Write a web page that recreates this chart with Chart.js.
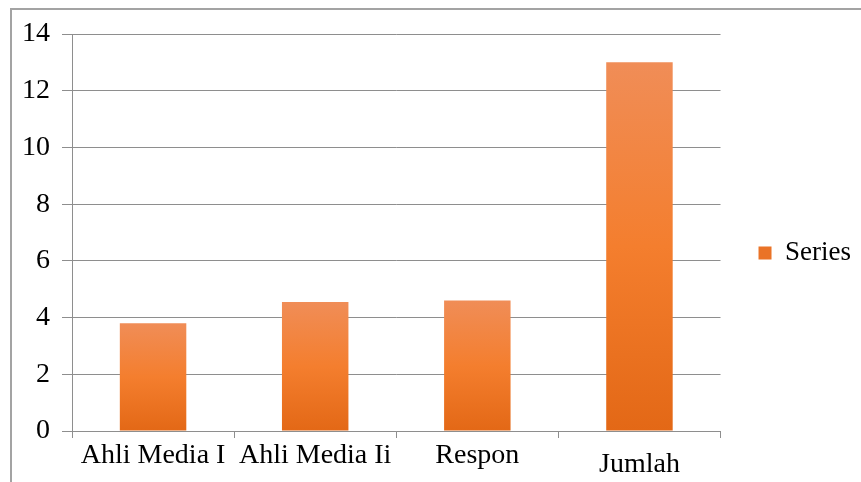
<!DOCTYPE html>
<html>
<head>
<meta charset="utf-8">
<script src="https://cdn.jsdelivr.net/npm/chart.js@4.4.0/dist/chart.umd.min.js"></script>
<style>
  body { margin: 0; background: #fff; overflow: hidden; }
  #wrap { position: relative; width: 861px; height: 482px; }
  #frame {
    position: absolute; left: 10px; top: 8px; width: 900px; height: 500px;
    border-top: 2px solid #a3a3a3; border-left: 2px solid #a3a3a3;
    pointer-events: none;
  }
  #grafico { position: absolute; left: 0; top: 0; }
</style>
</head>
<body>
<div id="wrap">
  <div id="frame"></div>
  <canvas id="grafico" width="861" height="482"></canvas>
</div>
<script>
// datos
var categorias = ["Ahli Media I", "Ahli Media Ii", "Respon", "Jumlah"];
var valores = [3.8, 4.55, 4.6, 13];
var nombreSerie = "Series";
var marcasY = [0, 2, 4, 6, 8, 10, 12, 14];

var fuente = "'Liberation Serif', 'Times New Roman', serif";
var gris = "#8e8e8e";

function rellenoBarra(ctx) {
    var chart = ctx.chart;
    if (!chart.chartArea || ctx.raw === undefined) {
        return "#f27c2c";
    }
    var y = chart.scales.y;
    var arriba = y.getPixelForValue(ctx.raw);
    var base = y.getPixelForValue(0);
    var g = chart.ctx.createLinearGradient(0, arriba, 0, base);
    g.addColorStop(0, "#f08d57");
    g.addColorStop(0.5, "#f47e2e");
    g.addColorStop(1, "#e36816");
    return g;
}

function cargaGrafico() {
    "use strict";
    var lienzo = document.getElementById("grafico").getContext("2d");
    new Chart(lienzo, {
        type: "bar",
        data: {
            labels: categorias,
            datasets: [{
                label: nombreSerie,
                data: valores,
                backgroundColor: rellenoBarra,
                borderWidth: 0,
                categoryPercentage: 1,
                barPercentage: 0.41
            }]
        },
        options: {
            responsive: false,
            animation: false,
            layout: { padding: { left: 10, top: 34, right: 0, bottom: 10 } },
            plugins: {
                tooltip: { enabled: false },
                legend: {
                    position: "right",
                    labels: {
                        boxWidth: 13,
                        boxHeight: 13,
                        padding: 38,
                        color: "#000",
                        font: { family: fuente, size: 27 },
                        generateLabels: function (chart) {
                            var items = Chart.defaults.plugins.legend.labels.generateLabels(chart);
                            items.forEach(function (it) {
                                it.fillStyle = "#ea7327";
                                it.strokeStyle = "#ea7327";
                                it.lineWidth = 0;
                            });
                            return items;
                        }
                    }
                }
            },
            scales: {
                x: {
                    afterFit: function (scale) { scale.height = 41; },
                    grid: {
                        display: true,
                        drawOnChartArea: false,
                        drawTicks: true,
                        offset: true,
                        tickLength: 7,
                        color: gris
                    },
                    border: { display: true, color: gris },
                    ticks: {
                        color: "#000",
                        padding: 1,
                        maxRotation: 0,
                        autoSkip: false,
                        font: function (ctx) {
                            // "Jumlah" sits a bit lower in the original
                            var lh = ctx.index === 3 ? 1.85 : 1.2;
                            return { family: fuente, size: 28, lineHeight: lh };
                        }
                    }
                },
                y: {
                    min: 0,
                    max: 14,
                    afterFit: function (scale) { scale.width = 62; },
                    afterBuildTicks: function (scale) {
                        scale.ticks = marcasY.map(function (v) { return { value: v }; });
                    },
                    grid: { color: gris, tickLength: 10 },
                    border: { display: true, color: gris },
                    ticks: {
                        color: "#000",
                        padding: 12,
                        font: { family: fuente, size: 28 }
                    }
                }
            }
        }
    });
}

cargaGrafico();
</script>
</body>
</html>
